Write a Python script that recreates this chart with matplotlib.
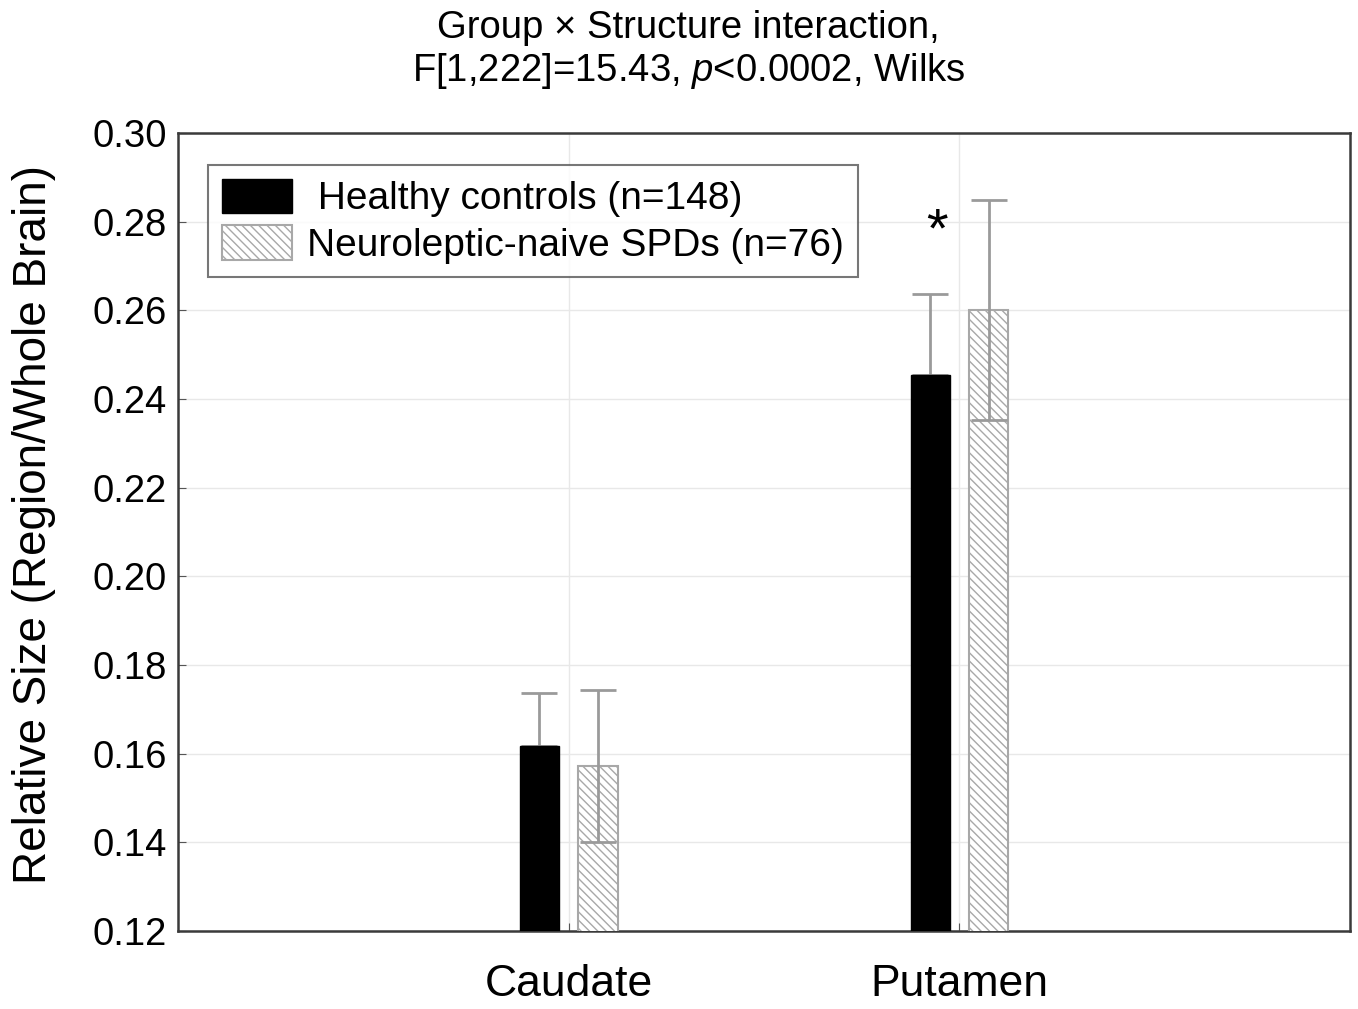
import matplotlib
matplotlib.use('Agg')
import matplotlib.pyplot as plt
import numpy as np

plt.rcParams['font.family'] = ['Liberation Sans', 'DejaVu Sans']
plt.rcParams['mathtext.fontset'] = 'custom'
plt.rcParams['mathtext.rm'] = 'Liberation Sans'
plt.rcParams['mathtext.it'] = 'Liberation Sans:italic'
plt.rcParams['hatch.color'] = '#c2c2c2'
plt.rcParams['hatch.linewidth'] = 1.0

# data
structures = ['Caudate', 'Putamen']
groups = [' Healthy controls (n=148)', 'Neuroleptic-naive SPDs (n=76)']
healthy_mean = [0.1617, 0.2454]
healthy_err = [0.0120, 0.0183]
spd_mean = [0.1572, 0.2601]
spd_err = [0.0172, 0.0248]
yticks = [0.12, 0.14, 0.16, 0.18, 0.20, 0.22, 0.24, 0.26, 0.28, 0.30]
star_pos = (1.942, 0.2775)

fig = plt.figure(figsize=(13.58, 10.09), dpi=100)
ax = fig.add_axes([0.1311, 0.0773, 0.8630, 0.7909])

x = np.arange(1, len(structures) + 1)
width = 0.1
off = 0.075
err_col = '#9a9a9a'

# healthy: lower half of the error bar is hidden behind the black bar
ax.errorbar(x - off, healthy_mean, yerr=[np.zeros(len(x)), healthy_err], fmt='none',
            ecolor=err_col, elinewidth=2, capsize=13, capthick=2, zorder=2)
ax.bar(x - off, healthy_mean, width, bottom=0, color='black', edgecolor='black',
       label=groups[0], zorder=3)

ax.bar(x + off, spd_mean, width, bottom=0, color='white', edgecolor='#a8a8a8',
       hatch='\\\\\\\\', linewidth=1.5, label=groups[1], zorder=3)
ax.errorbar(x + off, spd_mean, yerr=spd_err, fmt='none', ecolor=err_col,
            elinewidth=2, capsize=13, capthick=2, zorder=4)

ax.text(star_pos[0], star_pos[1], '*', fontsize=40, ha='center', va='center', zorder=5)

ax.set_xlim(0, 3)
ax.set_ylim(0.12, 0.30)
ax.set_xticks(x)
ax.set_xticklabels(structures, fontsize=32)
ax.set_yticks(yticks)
ax.set_yticklabels([f'{v:.2f}' for v in yticks], fontsize=27.5)
ax.tick_params(axis='y', direction='in', length=6, color='#555555', pad=8)
ax.tick_params(axis='x', direction='in', length=6, color='#555555', pad=24)

ax.grid(True, color='#e8e8e8', linewidth=1.0, zorder=0)
ax.set_axisbelow(True)
for s in ax.spines.values():
    s.set_color('#3a3a3a')
    s.set_linewidth(1.8)

ax.set_ylabel('Relative Size (Region/Whole Brain)', fontsize=33)
ax.yaxis.set_label_coords(-0.104, 0.51)

leg = ax.legend(loc='upper left', bbox_to_anchor=(0.0256, 0.960), borderaxespad=0,
                fontsize=28, frameon=True, fancybox=False, handlelength=1.8,
                handleheight=1.0, handletextpad=0.4, labelspacing=0.2,
                borderpad=0.35)
leg.get_frame().set_edgecolor('#555555')
leg.get_frame().set_linewidth(1.5)

fig.text(0.507, 0.950,
         'Group × Structure interaction,\nF[1,222]=15.43, $\\mathit{p}$<0.0002, Wilks',
         ha='center', va='center', fontsize=27.5, linespacing=1.15)

fig.savefig('out.png', dpi=100)
plt.close(fig)
